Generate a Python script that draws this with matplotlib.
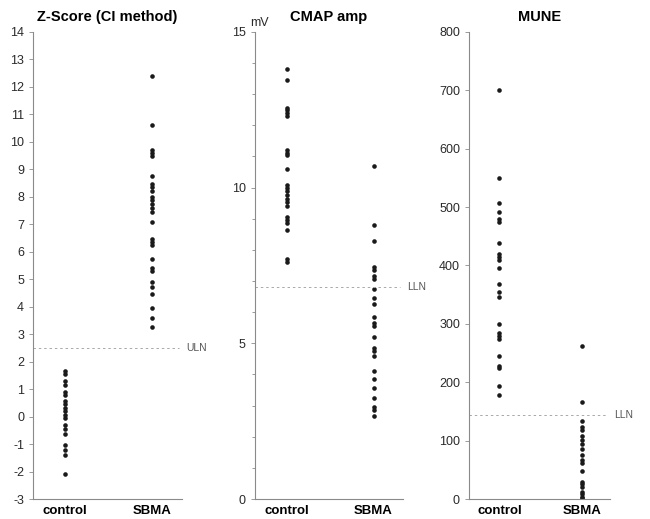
import matplotlib

matplotlib.use("Agg")
import matplotlib.pyplot as plt

plt.rcParams["font.family"] = ["Liberation Sans", "DejaVu Sans"]
plt.rcParams["axes.unicode_minus"] = False

groups = ["control", "SBMA"]

# Z-score (CI method)
z_control = [1.65, 1.55, 1.3, 1.15, 0.9, 0.8, 0.55, 0.45, 0.3, 0.2, 0.05, -0.05,
             -0.3, -0.45, -0.65, -1.05, -1.2, -1.4, -2.1]
z_sbma = [12.4, 10.6, 9.7, 9.6, 9.5, 8.75, 8.45, 8.35, 8.2, 8.0, 7.9, 7.75, 7.6,
          7.45, 7.1, 6.45, 6.35, 6.25, 5.75, 5.4, 5.3, 4.9, 4.7, 4.45, 3.95, 3.6, 3.25]
z_uln = 2.5

# CMAP amplitude (mV)
cmap_control = [13.8, 13.45, 12.55, 12.5, 12.4, 12.3, 11.2, 11.1, 11.05, 10.6, 10.1,
                10.0, 9.9, 9.75, 9.65, 9.55, 9.4, 9.05, 8.95, 8.85, 8.65, 7.7, 7.6]
cmap_sbma = [10.7, 8.8, 8.3, 7.45, 7.35, 7.15, 7.05, 6.75, 6.45, 6.25, 5.85, 5.65,
             5.55, 5.2, 4.85, 4.75, 4.6, 4.1, 3.85, 3.55, 3.25, 2.95, 2.85, 2.65]
cmap_lln = 6.8

# MUNE
mune_control = [700, 550, 507, 492, 480, 474, 439, 420, 415, 410, 396, 368, 354,
                346, 300, 285, 279, 274, 245, 228, 224, 193, 179]
mune_sbma = [262, 167, 134, 124, 118, 108, 101, 95, 85, 76, 67, 62, 48, 30, 25,
             20, 12, 8, 4, 1]
mune_lln = 144

AXIS_GREY = "#8a8a8a"
TEXT = "#2a2a2a"


def style_panel(ax, title):
    for side in ["top", "right"]:
        ax.spines[side].set_visible(False)
    for side in ["left", "bottom"]:
        ax.spines[side].set_color(AXIS_GREY)
        ax.spines[side].set_linewidth(0.8)
    ax.set_xlim(0.63, 2.34)
    ax.set_xticks([1, 2])
    ax.set_xticklabels(groups, fontsize=9.5, fontweight="bold", color="black")
    ax.tick_params(axis="x", length=0, pad=4)
    ax.tick_params(axis="y", which="both", colors=AXIS_GREY, labelcolor=TEXT,
                   labelsize=9, direction="out", width=0.6)
    ax.tick_params(axis="y", which="major", length=3)
    ax.tick_params(axis="y", which="minor", length=2)
    ax.set_title(title, fontsize=10.5, fontweight="bold", pad=8)


def plot_groups(ax, control, sbma):
    ax.plot([1] * len(control), control, "o", color="#1a1a1a", ms=3.3, mec="none")
    ax.plot([2] * len(sbma), sbma, "o", color="#1a1a1a", ms=3.3, mec="none")


def ref_line(ax, y, label):
    ax.axhline(y, xmin=0, xmax=0.98, color="#a8a8a8", lw=0.7, ls=(0, (2.5, 3)))
    ax.text(1.03, y, label, transform=ax.get_yaxis_transform(), fontsize=7.5,
            color="#555555", va="center", ha="left", clip_on=False)


fig = plt.figure(figsize=(6.5, 5.19), dpi=100)

ax1 = fig.add_axes([0.051, 0.0385, 0.229, 0.9])
ax2 = fig.add_axes([0.392, 0.0385, 0.228, 0.9])
ax3 = fig.add_axes([0.7215, 0.0385, 0.217, 0.9])

# Z-score
plot_groups(ax1, z_control, z_sbma)
ax1.set_ylim(-3, 14)
ax1.set_yticks(range(-3, 15))
style_panel(ax1, "Z-Score (CI method)")
ref_line(ax1, z_uln, "ULN")

# CMAP
plot_groups(ax2, cmap_control, cmap_sbma)
ax2.set_ylim(0, 15)
ax2.set_yticks([0, 5, 10, 15])
ax2.set_yticks(range(0, 16), minor=True)
style_panel(ax2, "CMAP amp")
ax2.text(-0.03, 15.1, "mV", fontsize=9, color=TEXT, ha="left", va="bottom",
         transform=ax2.get_yaxis_transform())
ref_line(ax2, cmap_lln, "LLN")

# MUNE
plot_groups(ax3, mune_control, mune_sbma)
ax3.set_ylim(0, 800)
ax3.set_yticks(range(0, 801, 100))
style_panel(ax3, "MUNE")
ref_line(ax3, mune_lln, "LLN")

fig.savefig("out.png", dpi=100)
